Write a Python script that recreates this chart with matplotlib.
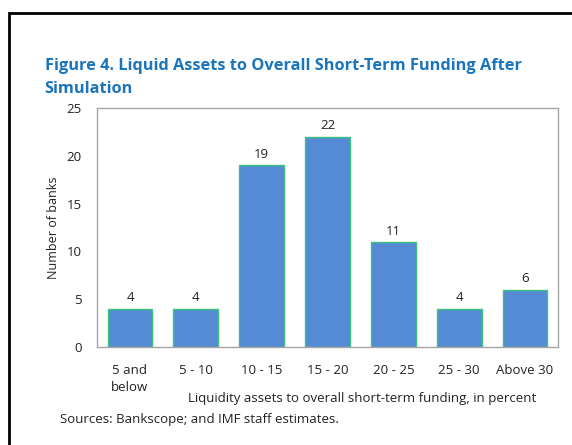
import matplotlib.pyplot as plt
from matplotlib.patches import Rectangle

# data
categories = ['5 and\nbelow', '5 - 10', '10 - 15', '15 - 20', '20 - 25', '25 - 30', 'Above 30']
banks = [4, 4, 19, 22, 11, 4, 6]
yticks = [0, 5, 10, 15, 20, 25]

plt.rcParams['font.family'] = ['Open Sans', 'DejaVu Sans']

fig = plt.figure(figsize=(5.72, 4.45), dpi=100)
ax = fig.add_axes([0.1696, 0.2202, 0.8059, 0.5371])

x = range(len(categories))
bars = ax.bar(x, banks, width=0.68, color='#558BD4', edgecolor='#3CC47C', linewidth=1.0)
for b, v in zip(bars, banks):
    ax.text(b.get_x() + b.get_width() / 2, v + 0.45, str(v),
            ha='center', va='bottom', fontsize=9.5, color='#222222')

ax.set_xlim(-0.5, len(categories) - 0.5)
ax.set_ylim(0, 25)
ax.set_yticks(yticks)
ax.set_xticks(list(x))
ax.set_xticklabels(categories, fontsize=9.5, linespacing=1.45, va='top')
ax.tick_params(axis='both', length=0, labelsize=9.5, colors='#222222')
ax.tick_params(axis='x', pad=12)
ax.tick_params(axis='y', pad=11)
for s in ax.spines.values():
    s.set_color('#A6A6A6')
    s.set_linewidth(1.0)

ax.set_ylabel('Number of banks', fontsize=9, color='#222222', labelpad=5)
fig.text(0.633, 0.104, 'Liquidity assets to overall short-term funding, in percent',
         ha='center', va='center', fontsize=9.5, color='#222222')
fig.text(0.105, 0.058, 'Sources: Bankscope; and IMF staff estimates.',
         ha='left', va='center', fontsize=9.5, color='#222222')

fig.text(0.078, 0.851, 'Figure 4. Liquid Assets to Overall Short-Term Funding After',
         ha='left', va='center', fontsize=11.8, fontweight='bold', color='#1B75BC')
fig.text(0.078, 0.799, 'Simulation',
         ha='left', va='center', fontsize=11.8, fontweight='bold', color='#1B75BC')

# black page frame
fig.patches.append(Rectangle((9 / 572, -0.05), 1.2, 1 - 13 / 445 + 0.05,
                             transform=fig.transFigure, fill=False,
                             edgecolor='black', linewidth=2))

fig.savefig('out.png', dpi=100)
